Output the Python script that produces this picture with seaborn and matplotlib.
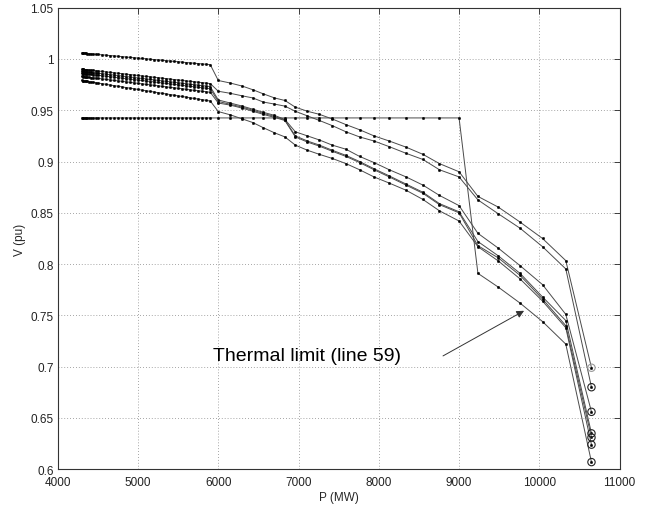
import matplotlib
matplotlib.use("Agg")
import matplotlib.pyplot as plt
import seaborn as sns
import pandas as pd

# ---- data -------------------------------------------------------------
P_dense = [4300, 4310, 4320, 4335, 4350, 4370, 4390, 4415, 4440, 4470, 4500,
           4550, 4600, 4650, 4700, 4750, 4800, 4850, 4900, 4950, 5000, 5050,
           5100, 5150, 5200, 5250, 5300, 5350, 5400, 5450, 5500, 5550, 5600,
           5650, 5700, 5750, 5800, 5850, 5900]
P_sparse = [6000, 6150, 6300, 6430, 6560, 6700, 6830, 6960, 7110, 7260, 7420,
            7590, 7760, 7940, 8130, 8340, 8550, 8755, 9000, 9235, 9490, 9760,
            10040, 10330, 10650]

A_dense = [1.0058, 1.0057, 1.0057, 1.0056, 1.0054, 1.0053, 1.0052, 1.0050, 1.0048,
           1.0046, 1.0044, 1.0040, 1.0037, 1.0033, 1.0030, 1.0026, 1.0022, 1.0019,
           1.0015, 1.0012, 1.0008, 1.0005, 1.0001, 0.9997, 0.9994, 0.9990, 0.9987,
           0.9983, 0.9980, 0.9976, 0.9973, 0.9969, 0.9965, 0.9962, 0.9958, 0.9955,
           0.9951, 0.9948, 0.9944]
B_dense = [0.9900, 0.9899, 0.9898, 0.9897, 0.9896, 0.9894, 0.9892, 0.9890, 0.9888,
           0.9885, 0.9883, 0.9878, 0.9874, 0.9869, 0.9865, 0.9861, 0.9856, 0.9852,
           0.9848, 0.9843, 0.9839, 0.9834, 0.9830, 0.9826, 0.9821, 0.9817, 0.9813,
           0.9808, 0.9804, 0.9799, 0.9795, 0.9791, 0.9786, 0.9782, 0.9778, 0.9773,
           0.9769, 0.9764, 0.9760]
C1_dense = [0.9880, 0.9879, 0.9878, 0.9877, 0.9875, 0.9873, 0.9872, 0.9869, 0.9867,
            0.9864, 0.9861, 0.9857, 0.9852, 0.9847, 0.9843, 0.9838, 0.9833, 0.9828,
            0.9824, 0.9819, 0.9814, 0.9810, 0.9805, 0.9800, 0.9796, 0.9791, 0.9786,
            0.9782, 0.9777, 0.9772, 0.9768, 0.9763, 0.9758, 0.9753, 0.9749, 0.9744,
            0.9739, 0.9735, 0.9730]
C2_dense = [0.9860, 0.9859, 0.9858, 0.9857, 0.9855, 0.9853, 0.9852, 0.9849, 0.9847,
            0.9844, 0.9841, 0.9837, 0.9832, 0.9827, 0.9823, 0.9818, 0.9813, 0.9808,
            0.9804, 0.9799, 0.9794, 0.9790, 0.9785, 0.9780, 0.9776, 0.9771, 0.9766,
            0.9762, 0.9757, 0.9752, 0.9748, 0.9743, 0.9738, 0.9733, 0.9729, 0.9724,
            0.9719, 0.9715, 0.9710]
C3_dense = [0.9830, 0.9829, 0.9828, 0.9827, 0.9825, 0.9823, 0.9821, 0.9819, 0.9816,
            0.9814, 0.9811, 0.9806, 0.9801, 0.9796, 0.9791, 0.9786, 0.9782, 0.9777,
            0.9772, 0.9767, 0.9762, 0.9757, 0.9753, 0.9748, 0.9743, 0.9738, 0.9733,
            0.9728, 0.9723, 0.9719, 0.9714, 0.9709, 0.9704, 0.9699, 0.9694, 0.9690,
            0.9685, 0.9680, 0.9675]
F_dense = [0.9790, 0.9789, 0.9788, 0.9786, 0.9784, 0.9781, 0.9779, 0.9776, 0.9773,
           0.9769, 0.9765, 0.9759, 0.9753, 0.9746, 0.9740, 0.9734, 0.9728, 0.9721,
           0.9715, 0.9709, 0.9703, 0.9696, 0.9690, 0.9684, 0.9678, 0.9671, 0.9665,
           0.9659, 0.9653, 0.9646, 0.9640, 0.9634, 0.9628, 0.9621, 0.9615, 0.9609,
           0.9603, 0.9596, 0.9590]
G_dense = [0.9425] * 39

A_sparse = [0.9790, 0.9765, 0.9735, 0.9700, 0.9660, 0.9620, 0.9595, 0.9530, 0.9490,
            0.9460, 0.9415, 0.9360, 0.9310, 0.9250, 0.9200, 0.9140, 0.9070, 0.8980,
            0.8900, 0.8660, 0.8555, 0.8410, 0.8250, 0.8034, 0.6990]
B_sparse = [0.9685, 0.9665, 0.9640, 0.9620, 0.9580, 0.9560, 0.9540, 0.9490, 0.9445,
            0.9400, 0.9350, 0.9290, 0.9240, 0.9200, 0.9145, 0.9080, 0.9020, 0.8920,
            0.8850, 0.8626, 0.8490, 0.8350, 0.8170, 0.7953, 0.6800]
C1_sparse = [0.9600, 0.9570, 0.9540, 0.9510, 0.9480, 0.9450, 0.9410, 0.9290, 0.9250,
             0.9210, 0.9160, 0.9120, 0.9050, 0.8990, 0.8920, 0.8850, 0.8770, 0.8670,
             0.8570, 0.8300, 0.8155, 0.7985, 0.7800, 0.7510, 0.6560]
C2_sparse = [0.9585, 0.9558, 0.9530, 0.9500, 0.9470, 0.9440, 0.9405, 0.9250, 0.9200,
             0.9160, 0.9110, 0.9060, 0.9000, 0.8930, 0.8860, 0.8780, 0.8700, 0.8590,
             0.8510, 0.8220, 0.8080, 0.7910, 0.7680, 0.7450, 0.6350]
C3_sparse = [0.9570, 0.9550, 0.9520, 0.9490, 0.9460, 0.9430, 0.9400, 0.9240, 0.9190,
             0.9150, 0.9100, 0.9050, 0.8990, 0.8920, 0.8850, 0.8770, 0.8690, 0.8580,
             0.8500, 0.8180, 0.8060, 0.7890, 0.7660, 0.7400, 0.6310]
F_sparse = [0.9487, 0.9455, 0.9415, 0.9380, 0.9330, 0.9280, 0.9240, 0.9160, 0.9110,
            0.9070, 0.9030, 0.8980, 0.8920, 0.8850, 0.8790, 0.8720, 0.8630, 0.8520,
            0.8420, 0.8170, 0.8030, 0.7856, 0.7640, 0.7380, 0.6240]
G_sparse = [0.9425, 0.9425, 0.9425, 0.9425, 0.9425, 0.9425, 0.9425, 0.9425, 0.9425,
            0.9425, 0.9425, 0.9425, 0.9425, 0.9425, 0.9425, 0.9425, 0.9425, 0.9425,
            0.9425, 0.7910, 0.7775, 0.7620, 0.7440, 0.7220, 0.6070]

curves = {
    "A": A_dense + A_sparse,
    "B": B_dense + B_sparse,
    "C1": C1_dense + C1_sparse,
    "C2": C2_dense + C2_sparse,
    "C3": C3_dense + C3_sparse,
    "F": F_dense + F_sparse,
    "G": G_dense + G_sparse,
}
P_all = P_dense + P_sparse

x_ticks = [4000, 5000, 6000, 7000, 8000, 9000, 10000, 11000]
y_ticks = [0.6, 0.65, 0.7, 0.75, 0.8, 0.85, 0.9, 0.95, 1.0, 1.05]
y_tick_labels = ["0.6", "0.65", "0.7", "0.75", "0.8", "0.85", "0.9", "0.95", "1", "1.05"]

rows = []
for name, vals in curves.items():
    for p, v in zip(P_all, vals):
        rows.append({"curve": name, "P": p, "V": v})
df = pd.DataFrame(rows)
ends = df.groupby("curve", sort=False).tail(1)

# ---- style ------------------------------------------------------------
sns.set_theme(style="white")
plt.rcParams["font.family"] = ["Liberation Sans", "DejaVu Sans"]

fig = plt.figure(figsize=(6.53, 5.06), dpi=100)
ax = fig.add_axes([0.0885, 0.0706, 0.8603, 0.9123])

sns.lineplot(data=df, x="P", y="V", hue="curve", palette=["#4a4a4a"] * 7,
             estimator=None, sort=False, legend=False, ax=ax,
             linewidth=0.7, marker=".", markersize=3.5,
             markerfacecolor="black", markeredgecolor="black", markeredgewidth=0.3)

edge_cols = ["#999999", "#222222", "#222222", "#222222", "#222222", "#222222", "#222222"]
for (_, r), ec in zip(ends.iterrows(), edge_cols):
    ax.scatter([r["P"]], [r["V"]], s=28, facecolors="none", edgecolors=ec,
               linewidths=0.8, zorder=5)

ax.set_xlim(4000, 11000)
ax.set_ylim(0.6, 1.05)
ax.set_xticks(x_ticks)
ax.set_yticks(y_ticks)
ax.set_yticklabels(y_tick_labels)
ax.grid(True, linestyle=(0, (1, 2.5)), color="#888888", linewidth=0.6)
ax.tick_params(direction="in", top=True, right=True, length=4, width=0.6,
               labelsize=8.5, colors="#222222")
ax.tick_params(axis="x", pad=5)
ax.tick_params(axis="y", pad=3)
for s in ax.spines.values():
    s.set_color("#333333")
    s.set_linewidth(0.8)

ax.set_xlabel("P (MW)", fontsize=8.5, labelpad=2)
ax.set_ylabel("V (pu)", fontsize=8.5, labelpad=3)

ax.annotate("", xy=(9810, 0.7545), xytext=(8800, 0.7105),
            arrowprops=dict(arrowstyle="-|>", color="#333333", lw=0.7,
                            mutation_scale=11, shrinkA=0, shrinkB=0))
ax.text(5940, 0.7065, "Thermal limit (line 59)", fontsize=14, color="black",
        ha="left", va="baseline")

fig.savefig("out.png", dpi=100)
